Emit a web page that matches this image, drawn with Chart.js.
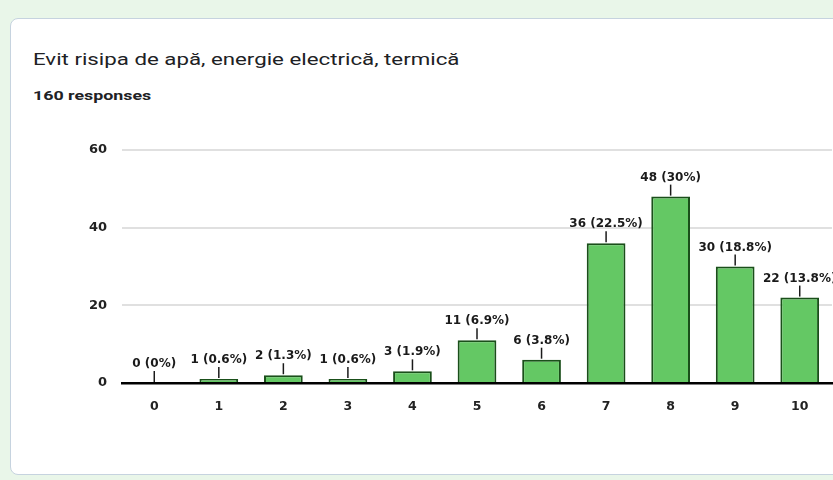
<!DOCTYPE html>
<html>
<head>
<meta charset="utf-8">
<script src="https://cdn.jsdelivr.net/npm/chart.js@4/dist/chart.umd.min.js"></script>
<style>
  html, body { margin:0; padding:0; width:833px; height:480px; overflow:hidden; background:#e9f6e9; }
  #card { position:absolute; left:10px; top:18px; width:840px; height:455px; background:#fff;
          border:1px solid #c6d3df; border-radius:8px; }
  #title { position:absolute; left:33px; top:49px; font-family:Roboto, Arial, sans-serif; font-size:17px; color:#202124;
           transform:scaleX(1.31); transform-origin:left top; white-space:nowrap; }
  #sub { position:absolute; left:33px; top:88px; font-family:Roboto, Arial, sans-serif; font-size:13px; font-weight:bold; color:#202124;
         transform:scaleX(1.37); transform-origin:left top; white-space:nowrap; }
  #wrap { position:absolute; left:0; top:0; width:833px; height:480px; }
</style>
</head>
<body>
<div id="card"></div>
<div id="title">Evit risipa de apă, energie electrică, termică</div>
<div id="sub">160 responses</div>
<div id="wrap"><canvas id="c" width="833" height="480"></canvas></div>
<script>
const categories = ["0","1","2","3","4","5","6","7","8","9","10"];
const counts = [0, 1, 2, 1, 3, 11, 6, 36, 48, 30, 22];
const percents = ["0%","0.6%","1.3%","0.6%","1.9%","6.9%","3.8%","22.5%","30%","18.8%","13.8%"];
const yTicks = [0, 20, 40, 60];

const labelPlugin = {
  id: 'barLabels',
  afterDatasetsDraw(chart) {
    const ctx = chart.ctx;
    const meta = chart.getDatasetMeta(0);
    ctx.save();
    ctx.font = 'bold 12px "DejaVu Sans", Arial, sans-serif';
    ctx.fillStyle = '#1a1a1a';
    ctx.strokeStyle = '#1a1a1a';
    ctx.lineWidth = 1.5;
    ctx.textAlign = 'center';
    ctx.textBaseline = 'alphabetic';
    meta.data.forEach((bar, i) => {
      const x = bar.x, y = bar.y;
      ctx.beginPath();
      ctx.moveTo(x, y - 1);
      ctx.lineTo(x, y - 12);
      ctx.stroke();
      ctx.fillText(counts[i] + ' (' + percents[i] + ')', x, y - 16);
    });
    ctx.restore();
  }
};

new Chart(document.getElementById('c'), {
  type: 'bar',
  data: {
    labels: categories,
    datasets: [{
      data: counts,
      backgroundColor: '#64c864',
      borderColor: '#1a4f1a',
      borderWidth: 2,
      categoryPercentage: 0.6,
      barPercentage: 1
    }]
  },
  options: {
    responsive: false,
    animation: false,
    events: [],
    layout: { padding: { top: 150, left: 0, right: 1, bottom: 0 } },
    plugins: { legend: { display: false }, tooltip: { enabled: false } },
    scales: {
      x: {
        grid: { display: false, drawTicks: false },
        border: { display: true, color: '#000', width: 2.5 },
        ticks: { padding: 16, color: '#222', font: { family: '"DejaVu Sans"', size: 12.5, weight: 'bold' } },
        afterFit(s) { s.height = 97; }
      },
      y: {
        min: 0, max: 60,
        afterBuildTicks(s) { s.ticks = yTicks.map(v => ({ value: v })); },
        grid: { color: (c) => c.tick && c.tick.value === 0 ? 'rgba(0,0,0,0)' : '#e0e0e0', lineWidth: 2, drawTicks: false },
        border: { display: false },
        ticks: { padding: 15, color: '#222', font: { family: '"DejaVu Sans"', size: 13, weight: 'bold' } },
        afterFit(s) { s.width = 122; }
      }
    }
  },
  plugins: [labelPlugin]
});
</script>
</body>
</html>
